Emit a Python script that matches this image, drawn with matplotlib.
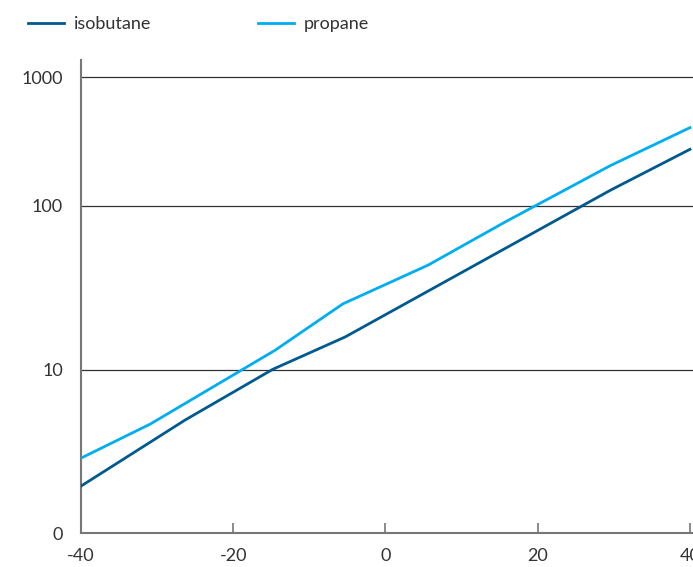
import numpy as np
import matplotlib
matplotlib.use("Agg")
import matplotlib.pyplot as plt

plt.rcParams['font.family'] = ['Lato', 'DejaVu Sans']
plt.rcParams['axes.unicode_minus'] = False

# temperature (deg C) vs vapour pressure
iso_temp = [-40, -26.3, -14.8, -5.3, 29.6, 40]
iso_pres = [1.94, 4.94, 10.1, 15.9, 133, 275]

prop_temp = [-40, -30.9, -14.5, -5.6, 5.6, 15.7, 29.5, 40]
prop_pres = [2.88, 4.66, 13.2, 25.3, 43.6, 79.8, 205, 405]

y_ticks = [1, 10, 100, 1000]
y_labels = ['0', '10', '100', '1000']
x_ticks = [-40, -20, 0, 20, 40]

# the original axis is not evenly spaced between decades
dec = np.array([0.0, 1.0, 2.0, 3.0])
pos = np.array([0.0, 163.0, 327.0, 456.0])


def fwd(v):
    lv = np.log10(np.clip(np.asarray(v, dtype=float), 1e-6, None))
    out = np.interp(lv, dec, pos)
    hi = lv > dec[-1]
    lo = lv < dec[0]
    out = np.where(hi, pos[-1] + (lv - dec[-1]) * (pos[-1] - pos[-2]), out)
    out = np.where(lo, lv * (pos[1] - pos[0]), out)
    return out


def inv(p):
    p = np.asarray(p, dtype=float)
    lv = np.interp(p, pos, dec)
    hi = p > pos[-1]
    lo = p < pos[0]
    lv = np.where(hi, dec[-1] + (p - pos[-1]) / (pos[-1] - pos[-2]), lv)
    lv = np.where(lo, p / (pos[1] - pos[0]), lv)
    return 10 ** lv


fig = plt.figure(figsize=(6.93, 5.67), dpi=100)
ax = fig.add_axes([81 / 693, 34 / 567, 612 / 693, 473 / 567])

ax.set_yscale('function', functions=(fwd, inv))
ax.set_ylim(1, inv(473.0))
ax.set_xlim(-40, 40.4)

for t in y_ticks[1:]:
    ax.axhline(t, color='#333333', lw=0.9, zorder=1)

ax.plot(iso_temp, iso_pres, color='#005A8E', lw=2.0, label='isobutane', zorder=3)
ax.plot(prop_temp, prop_pres, color='#00AEEF', lw=2.0, label='propane', zorder=3)

ax.set_yticks(y_ticks)
ax.set_yticklabels(y_labels)
ax.yaxis.set_minor_locator(matplotlib.ticker.NullLocator())
ax.set_xticks(x_ticks)
ax.tick_params(axis='y', length=0, pad=13, labelsize=13, labelcolor='#333333')
ax.tick_params(axis='x', direction='in', length=7, width=1.2, color='#777777',
               pad=11, labelsize=13, labelcolor='#333333')

for s in ['top', 'right']:
    ax.spines[s].set_visible(False)
for s in ['left', 'bottom']:
    ax.spines[s].set_color('#777777')
    ax.spines[s].set_linewidth(1.5)

fig.legend(loc='upper left', bbox_to_anchor=(12 / 693, 1 - 0 / 567), ncol=2,
           frameon=False, fontsize=13, handlelength=2.0, handletextpad=0.55,
           columnspacing=5.9, labelcolor='#333333')

fig.savefig('out.png', dpi=100)
